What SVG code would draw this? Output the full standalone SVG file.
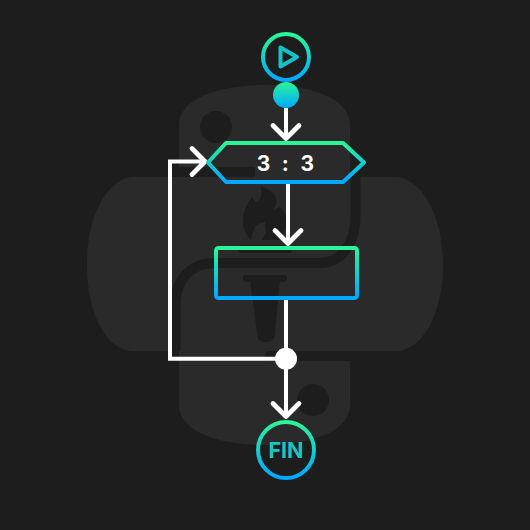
<svg xmlns="http://www.w3.org/2000/svg" width="530" height="530" viewBox="0 0 530 530">
<defs>
<linearGradient id="grad" x1="0" y1="0" x2="0" y2="1"><stop offset="0" stop-color="#2af598"/><stop offset="1" stop-color="#00a8ff"/></linearGradient>
<marker id="arrow" markerUnits="userSpaceOnUse" markerWidth="40" markerHeight="40" viewBox="-20 -20 40 40" refX="0" refY="0" orient="auto" overflow="visible"><path d="M-13 -13 L0 0 L-13 13" fill="none" stroke="#fff" stroke-width="4.800" stroke-linecap="round" stroke-linejoin="round"/></marker>
</defs>
<style>
.logo{fill:#2a2a2a}
.gap{fill:none;stroke:#1d1d1d;stroke-width:10}
.dark{fill:#1d1d1d}
.edge{fill:none;stroke:#fff;stroke-width:4;marker-end:url(#arrow)}
.shape{fill:none;stroke:url(#grad);stroke-width:4;stroke-linejoin:round}
.label{font-family:Inter,"Liberation Sans",sans-serif;font-weight:700;text-anchor:middle}
</style>
<rect width="530" height="530" fill="#1d1d1d"/>
<g id="logo">
<path class="logo" d="M179 177V125C179 100 215 85 265 85C315 85 350 100 350 125V177H397C422 180 443 215 443 265C443 315 422 350 397 351H350V405C350 430 315 445 265 445C215 445 179 430 179 405V351H132C107 350 87 315 87 265C87 215 107 180 132 177Z"/>
<path class="gap" d="M179 172H255"/>
<path class="gap" stroke-linecap="butt" d="M355.500 177V215C355.500 245 340 263 320 263H215C190 263 175.500 280 175.500 305V351"/>
<path class="gap" stroke-linecap="round" d="M270 356H350"/>
<rect class="dark" x="350" y="351" width="15" height="10"/>
<circle class="dark" cx="216" cy="127" r="16"/>
<circle class="dark" cx="313" cy="400" r="16"/>
<path class="dark" d="M260 186C270 189 279 196 276 204L273 210L280 207C285 212 288 217 287 223C286 230 282 236 279 240H262L266 232L265 222C258 222 253 228 252 235L251 240C245 234 242 226 243 218C244 210 248 202 252 197C253 200 255 202 258 202C261 198 263 192 260 186Z"/>
<rect class="dark" x="238" y="245" width="54" height="8" rx="3"/>
<rect class="dark" x="243" y="275" width="44" height="7" rx="3"/>
<path class="dark" d="M250 280H280L274.500 336C274 344 258 344 257.500 336Z"/>
</g>
<g id="connectors">
<path class="edge" d="M286 108V138.500"/>
<path class="edge" d="M288 183V243.500"/>
<path class="edge" d="M286 300V416.500"/>
<path class="edge" d="M286 358.700H170V161.500H205"/>
</g>
<g id="start">
<circle class="shape" cx="286" cy="57" r="23"/>
<path d="M280.500 47.500V66.500L297 57Z" fill="none" stroke="#13c3c9" stroke-width="4" stroke-linejoin="round"/>
</g>
<g id="dot"><circle cx="286" cy="95" r="13" fill="url(#grad)"/></g>
<g id="loop">
<path class="shape" d="M226 143H343L364 162.500L343 182H226L208 162.500Z"/>
<text class="label" x="287" y="171" font-size="21" fill="#fff" xml:space="preserve" letter-spacing="3.300">3 : 3</text>
</g>
<g id="body"><rect class="shape" x="216" y="248" width="141" height="50" rx="2.500"/></g>
<g id="junction"><circle cx="286" cy="358.700" r="11" fill="#fff"/></g>
<g id="end">
<circle class="shape" cx="286" cy="450" r="28"/>
<text class="label" x="286" y="457.500" font-size="21.500" fill="#1cc6c0">FIN</text>
</g>
</svg>
